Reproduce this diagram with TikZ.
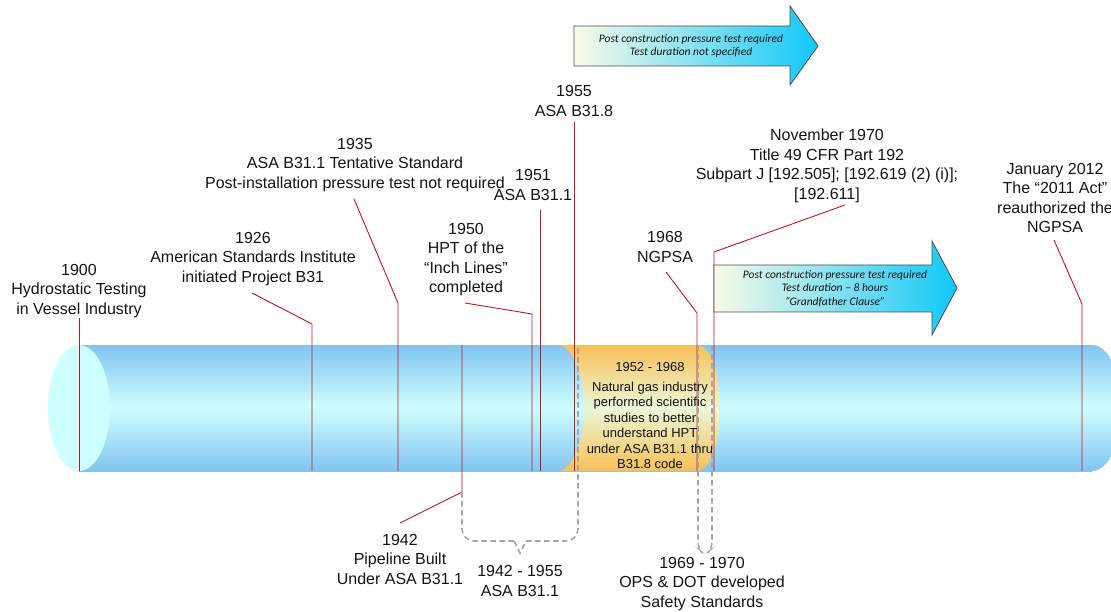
\documentclass[tikz,border=0pt]{standalone}
\usepackage{fontspec}
\setmainfont{Liberation Sans}
\newfontfamily\calib{Carlito}
\definecolor{leadred}{RGB}{196,20,30}
\definecolor{brkgray}{RGB}{165,165,165}
\definecolor{pipeB}{RGB}{130,196,240}
\definecolor{pipeM}{RGB}{206,255,255}
\definecolor{capC}{RGB}{206,255,255}
\definecolor{orB}{RGB}{248,192,86}
\definecolor{orM}{RGB}{234,247,216}
\definecolor{arrL}{RGB}{250,250,232}
\definecolor{arrR}{RGB}{16,200,248}
\definecolor{txt}{RGB}{20,20,20}
\begin{document}
\begin{tikzpicture}[x=1pt,y=-1pt,
  lbl/.style={align=center, inner sep=0pt, text=txt, font=\fontsize{16}{19.5}\selectfont},
  olbl/.style={align=center, inner sep=0pt, text=txt, font=\fontsize{13}{15.5}\selectfont},
  lead/.style={draw=leadred, line width=0.9pt},
  brk/.style={draw=brkgray, line width=1.6pt, dash pattern=on 5.5pt off 3.5pt},
  arr/.style={draw=black!70, line width=0.8pt, left color=arrL, right color=arrR},
  arrtxt/.style={align=center, inner sep=0pt, text=txt, font=\calib\itshape\fontsize{11.5}{13.8}\selectfont}]
\useasboundingbox (0,0) rectangle (1111,612);
\clip (0,0) rectangle (1111,612);

% pipe
\shade[top color=pipeB, bottom color=pipeB, middle color=pipeM] (79,345) rectangle (1092,471);
\shade[top color=pipeB, bottom color=pipeB, middle color=pipeM] (1092,408) ellipse [x radius=30, y radius=63];
\fill[capC] (79,408) ellipse [x radius=31, y radius=63];

% orange band
\shade[top color=orB, bottom color=orB, middle color=orM]
  (557,345) .. controls (572,345) and (584,373) .. (584,408)
  .. controls (584,443) and (572,471) .. (557,471)
  -- (697,471) .. controls (710,471) and (720,443) .. (720,408)
  .. controls (720,373) and (710,345) .. (697,345) -- cycle;

% leader coordinates
\coordinate (a1900) at (79,318);   \coordinate (b1900) at (79,471);
\coordinate (a1926) at (252,293);  \coordinate (k1926) at (312,324); \coordinate (b1926) at (312,471);
\coordinate (a1935) at (354,199);  \coordinate (k1935) at (398,303); \coordinate (b1935) at (398,471);
\coordinate (a1950) at (465,303);  \coordinate (k1950) at (532,314); \coordinate (b1950) at (532,471);
\coordinate (a1951) at (540,210);  \coordinate (b1951) at (540,471);
\coordinate (a1955) at (574,122);  \coordinate (b1955) at (574,471);
\coordinate (a1968) at (666,272);  \coordinate (k1968) at (697,313); \coordinate (b1968) at (697,471);
\coordinate (a1970) at (845,205);  \coordinate (k1970) at (714,252); \coordinate (b1970) at (714,471);
\coordinate (a2012) at (1054,240); \coordinate (k2012) at (1082,304); \coordinate (b2012) at (1082,471);
\coordinate (a1942) at (400,523);  \coordinate (k1942) at (462,492); \coordinate (b1942) at (462,345);

\draw[lead] (a1900) -- (b1900);
\draw[lead] (a1926) -- (k1926) -- (b1926);
\draw[lead] (a1935) -- (k1935) -- (b1935);
\draw[lead] (a1950) -- (k1950) -- (b1950);
\draw[lead] (a1951) -- (b1951);
\draw[lead] (a1955) -- (b1955);
\draw[lead] (a1968) -- (k1968) -- (b1968);
\draw[lead] (a1970) -- (k1970) -- (b1970);
\draw[lead] (a2012) -- (k2012) -- (b2012);
\draw[lead] (a1942) -- (k1942) -- (b1942);

% dashed brackets
\coordinate (r1955) at (578,345);
\coordinate (t4255) at (520,553);
\draw[brk, rounded corners=12pt] (k1942) -- (462,541) -- (514,541);
\draw[brk] (514,541) -- (t4255) -- (526,541);
\draw[brk, rounded corners=12pt] (526,541) -- (578,541) -- (r1955);
\coordinate (l6970) at (698,345); \coordinate (r6970) at (712,345);
\coordinate (t6970) at (705,556);
\draw[brk, rounded corners=6pt] (l6970) -- (698,548) -- (t6970) -- (712,548) -- (r6970);

% labels
\node[lbl] (t1900) at (79,291) {1900\\Hydrostatic Testing\\in Vessel Industry};
\node[lbl] (t1926) at (253,259) {1926\\American Standards Institute\\initiated Project B31};
\node[lbl] (t1935) at (355,165) {1935\\ASA B31.1 Tentative Standard\\Post-installation pressure test not required};
\node[lbl] (t1951) at (533,185) {1951\\ASA B31.1};
\node[lbl] (t1955) at (574,101) {1955\\ASA B31.8};
\node[lbl] (t1950) at (466,259.5) {1950\\HPT of the\\“Inch Lines”\\completed};
\node[lbl] (t1968) at (665,247) {1968\\NGPSA};
\node[lbl] (t1970) at (827,166) {November 1970\\Title 49 CFR Part 192\\Subpart J [192.505]; [192.619 (2) (i)];\\{}[192.611]};
\node[lbl] (t2012) at (1055,198) {January 2012\\The “2011 Act"\\reauthorized the\\NGPSA};
\node[lbl] (t1942) at (400,559) {1942\\Pipeline Built\\Under ASA B31.1};
\node[lbl] (t4255l) at (520,581) {1942 - 1955\\ASA B31.1};
\node[lbl] (t6970l) at (702,584) {1969 - 1970\\OPS \& DOT developed\\Safety Standards};
\node[olbl] (tband) at (650,416) {1952 - 1968\\[4pt]Natural gas industry\\performed scientific\\studies to better\\understand HPT\\under ASA B31.1 thru\\B31.8 code};

% block arrows
\draw[arr] (574,26) -- (790,26) -- (790,6) -- (818,46) -- (790,85) -- (790,66) -- (574,66) -- cycle;
\node[arrtxt] (arr1) at (691,46) {Post construction pressure test required\\Test duration not specified};
\draw[arr] (714,265) -- (932,265) -- (932,241) -- (957,288) -- (932,335) -- (932,312) -- (714,312) -- cycle;
\node[arrtxt] (arr2) at (835,288.5) {Post construction pressure test required\\Test duration – 8 hours\\“Grandfather Clause”};
\end{tikzpicture}
\end{document}
